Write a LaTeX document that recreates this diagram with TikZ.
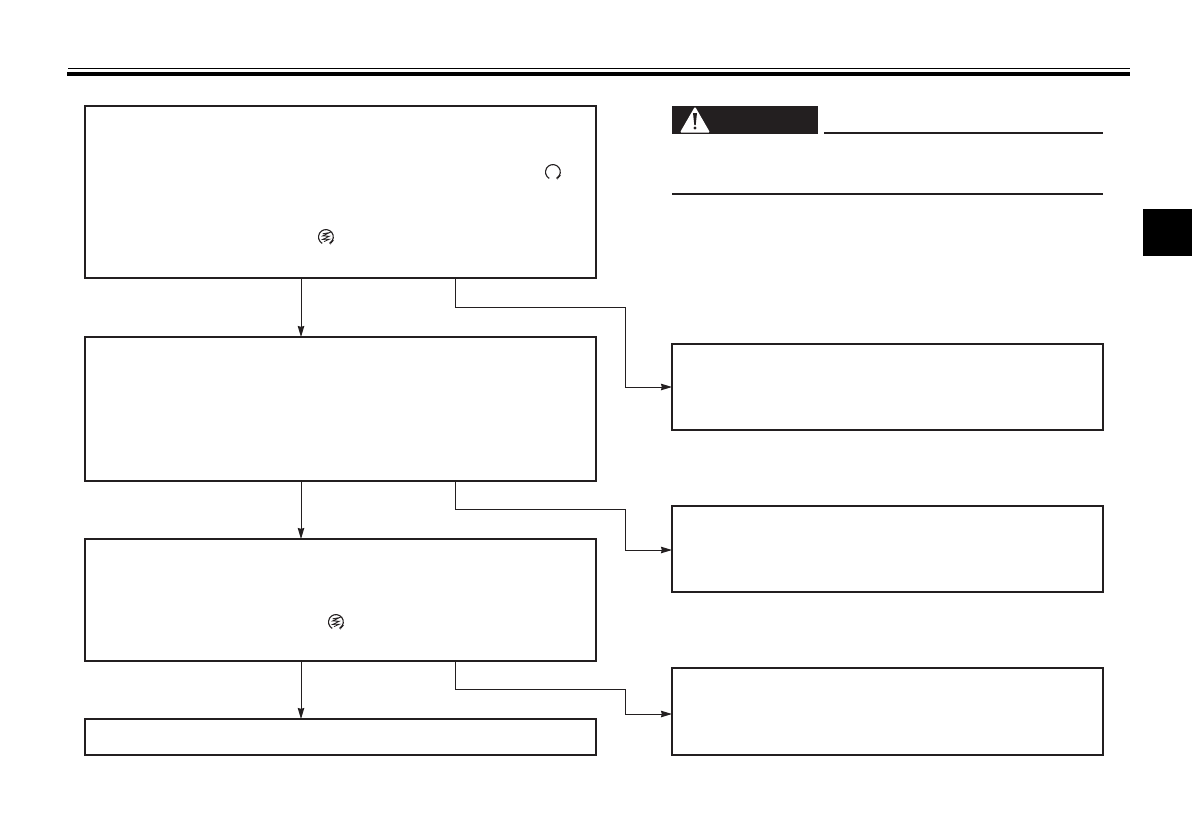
\documentclass[tikz,border=0pt]{standalone}
\usetikzlibrary{arrows.meta}
\definecolor{ink}{HTML}{231F20}
\tikzset{
  x=1pt,y=-1pt,
  flowbox/.style={draw=ink,line width=2pt,fill=white,inner sep=0pt,outer sep=0pt,anchor=north west},
  conn/.style={draw=ink,line width=1pt},
  arr/.style={conn,-{Stealth[length=11pt,width=6.5pt,inset=.8pt]}},
  rule/.style={draw=ink,line width=2pt},
  revicon/.pic={
    \draw[ink,line width=1.1pt] (-3.8,6.4) arc[start angle=240,end angle=-60,radius=7.4pt];
    \fill[ink] (5.4,3.6) -- (8,3.2) -- (4.2,7.6) -- cycle;
  },
  springicon/.pic={
    \draw[ink,line width=1.1pt] (-3.8,6.4) arc[start angle=240,end angle=-60,radius=7.4pt];
    \fill[ink] (5.4,3.6) -- (8,3.2) -- (4.2,7.6) -- cycle;
    \draw[ink,line width=.8pt] (-3.4,-3.2) -- (3.4,-4.4) -- (-3.4,-1) -- (3.4,-.8) -- (-3.2,2.4) -- (3.4,2.2) -- (-2,4.6);
  }
}
\begin{document}
\begin{tikzpicture}
\useasboundingbox (0,0) rectangle (1192,838);
\fill[white] (0,0) rectangle (1192,838);
% header rules
\fill[black] (68,68) rectangle (1130,69);
\fill[black] (67,72) rectangle (1130,76);
% side tab
\fill[black] (1143,209) rectangle (1192,255.5);
% flow boxes
\node[flowbox,minimum width=511pt,minimum height=172pt] (a) at (85,106) {};
\node[flowbox,minimum width=511pt,minimum height=144pt] (b) at (85,337) {};
\node[flowbox,minimum width=511pt,minimum height=122pt] (c) at (85,539) {};
\node[flowbox,minimum width=511pt,minimum height=36pt] (d) at (85,719) {};
\node[flowbox,minimum width=431pt,minimum height=86pt] (r1) at (672,344) {};
\node[flowbox,minimum width=431pt,minimum height=86pt] (r2) at (672,506) {};
\node[flowbox,minimum width=431pt,minimum height=87pt] (r3) at (672,668) {};
% guide coordinates
\coordinate (vx) at (301,0);
\coordinate (bx) at (455.5,0);
\coordinate (kx) at (625.5,0);
\coordinate (t1) at (0,307.5);
\coordinate (t2) at (0,509.5);
\coordinate (t3) at (0,689.5);
\coordinate (e1) at (0,387);
\coordinate (e2) at (0,550);
\coordinate (e3) at (0,714);
% vertical connectors
\draw[arr] (vx |- a.south) -- (vx |- b.north);
\draw[arr] (vx |- b.south) -- (vx |- c.north);
\draw[arr] (vx |- c.south) -- (vx |- d.north);
% branch connectors
\draw[arr] (bx |- a.south) -- (bx |- t1) -- (kx |- t1) -- (kx |- e1) -- (r1.west |- e1);
\draw[arr] (bx |- b.south) -- (bx |- t2) -- (kx |- t2) -- (kx |- e2) -- (r2.west |- e2);
\draw[arr] (bx |- c.south) -- (bx |- t3) -- (kx |- t3) -- (kx |- e3) -- (r3.west |- e3);
% icons
\pic at (553,172) {revicon};
\pic at (326,237) {springicon};
\pic at (336,622) {springicon};
% warning banner
\fill[ink] (672,106) rectangle (818,134);
\fill[white,rounded corners=1.2pt] (695,106.5) -- (710,132.5) -- (680,132.5) -- cycle;
\fill[ink] (693,113) -- (697,113) -- (695.7,125) -- (694.3,125) -- cycle;
\fill[ink] (695,128) circle[radius=1.7];
\draw[rule] (824,133) -- (1103,133);
\draw[rule] (672,194) -- (1103,194);
\end{tikzpicture}
\end{document}
